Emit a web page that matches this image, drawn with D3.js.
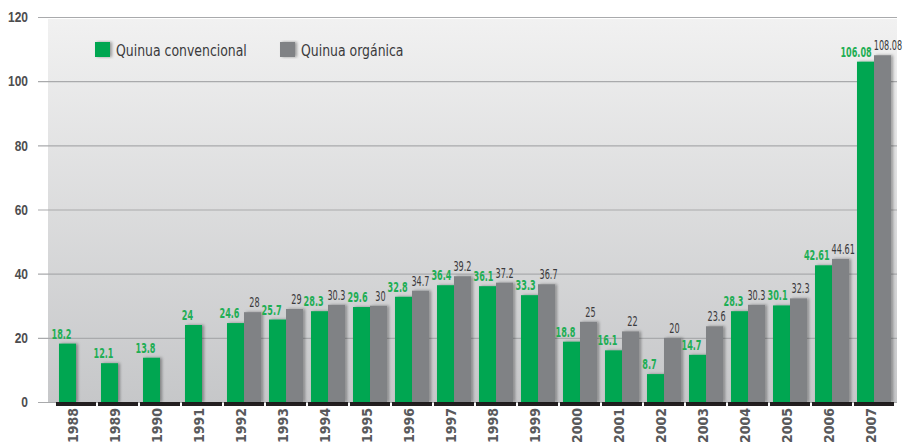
<!DOCTYPE html>
<html>
<head>
<meta charset="utf-8">
<script src="https://cdn.jsdelivr.net/npm/d3@7"></script>
<style>
  body { margin: 0; background: #fff; }
  svg { display: block; font-family: 'DejaVu Sans', 'Liberation Sans', sans-serif; }
</style>
</head>
<body>
<svg id="chart"></svg>
<script>
const years = ['1988', '1989', '1990', '1991', '1992', '1993', '1994', '1995', '1996', '1997',
  '1998', '1999', '2000', '2001', '2002', '2003', '2004', '2005', '2006', '2007']
const convencional = [18.2, 12.1, 13.8, 24, 24.6, 25.7, 28.3, 29.6, 32.8, 36.4,
  36.1, 33.3, 18.8, 16.1, 8.7, 14.7, 28.3, 30.1, 42.61, 106.08]
const organica = [null, null, null, null, 28, 29, 30.3, 30, 34.7, 39.2,
  37.2, 36.7, 25, 22, 20, 23.6, 30.3, 32.3, 44.61, 108.08]
const yTicks = [0, 20, 40, 60, 80, 100, 120]
const seriesNames = ['Quinua convencional', 'Quinua orgánica']

const width = 903
const height = 447
const svg = d3.select('#chart').attr('width', width).attr('height', height)

const colorScale = d3.scaleOrdinal().domain(['conv', 'org']).range(['#00a651', '#808285'])
const labelColor = { conv: '#1fae55', org: '#3a3a3c' }
const squeeze = 0.58

const xPositionScale = d3.scaleBand()
  .domain(years)
  .range([55, 895])
  .paddingInner(0.19)
  .paddingOuter(0.095)
const xSub = d3.scaleBand().domain(['conv', 'org']).range([0, xPositionScale.bandwidth()])
const yPositionScale = d3.scaleLinear().domain([0, 120]).range([402, 17])

// background gradient + bar shadow
const defs = svg.append('defs')
const grad = defs.append('linearGradient')
  .attr('id', 'bg')
  .attr('x1', 0).attr('x2', 0).attr('y1', 0).attr('y2', 1)
grad.append('stop').attr('offset', '0%').attr('stop-color', '#f1f1f1')
grad.append('stop').attr('offset', '100%').attr('stop-color', '#c6c7c9')
const shadow = defs.append('filter').attr('id', 'shadow')
  .attr('x', '-20%').attr('width', '160%')
shadow.append('feDropShadow')
  .attr('dx', 2).attr('dy', 0).attr('stdDeviation', 1.5)
  .attr('flood-color', '#000').attr('flood-opacity', 0.35)

svg.append('rect')
  .attr('x', 48)
  .attr('y', yPositionScale(120) + 2)
  .attr('width', 897 - 48)
  .attr('height', yPositionScale(0) - yPositionScale(120) - 2)
  .attr('fill', 'url(#bg)')

// y axis with gridlines
const yAxis = d3.axisLeft(yPositionScale)
  .tickValues(yTicks)
  .tickSize(-(897 - 38))
  .tickPadding(5)
svg.append('g')
  .attr('class', 'y-axis')
  .attr('transform', 'translate(38,0)')
  .call(yAxis)
  .call(g => g.select('.domain').remove())
  .call(g => g.selectAll('line').attr('stroke', '#a9aaac').attr('stroke-width', 1.2))
  .call(g => g.selectAll('text')
    .attr('x', -4)
    .attr('font-size', 15)
    .attr('font-weight', 'bold')
    .attr('fill', '#4d4d4f')
    .attr('transform', 'translate(-34,0) scale(0.8,1) translate(34,0)'))

// flat list of bars
const bars = []
years.forEach((y, i) => {
  bars.push({ year: y, key: 'conv', value: convencional[i] })
  if (organica[i] !== null) bars.push({ year: y, key: 'org', value: organica[i] })
})

// base under each group
svg.append('g')
  .selectAll('rect')
  .data(years)
  .enter()
  .append('rect')
  .attr('x', d => xPositionScale(d) - 3)
  .attr('y', yPositionScale(0))
  .attr('width', xPositionScale.bandwidth() + 6)
  .attr('height', 4)
  .attr('fill', '#231f20')

svg.append('g')
  .selectAll('.bar')
  .data(bars)
  .enter()
  .append('rect')
  .attr('class', 'bar')
  .attr('x', d => xPositionScale(d.year) + xSub(d.key))
  .attr('y', d => yPositionScale(d.value))
  .attr('width', xSub.bandwidth())
  .attr('height', d => yPositionScale(0) - yPositionScale(d.value))
  .attr('fill', d => colorScale(d.key))
  .attr('filter', 'url(#shadow)')

// value labels, squeezed to look like the narrow face of the original
const valueLabels = svg.append('g')
  .selectAll('.value')
  .data(bars)
  .enter()
  .append('text')
  .attr('class', 'value')
  .text(d => d.value)
  .attr('text-anchor', 'middle')
  .attr('font-size', 14)
  .attr('font-weight', d => d.key === 'conv' ? 'bold' : 'normal')
  .attr('fill', d => labelColor[d.key])
  .each(function(d) {
    d.lx = xPositionScale(d.year) + xSub(d.key) + xSub.bandwidth() / 2 + (d.key === 'conv' ? -6 : 2)
    d.ly = yPositionScale(d.value) - 5
    d.lw = this.getComputedTextLength() * squeeze
  })

// push neighbours apart where they would touch
for (let pass = 0; pass < 4; pass++) {
  for (let i = 0; i < bars.length - 1; i++) {
    const a = bars[i]
    const b = bars[i + 1]
    const gap = (b.lx - b.lw / 2) - (a.lx + a.lw / 2)
    if (gap < 2 && Math.abs(a.ly - b.ly) < 14) {
      const shift = (2 - gap) / 2
      a.lx -= shift
      b.lx += shift
    }
  }
}
valueLabels.attr('transform', d => 'translate(' + d.lx + ',' + d.ly + ') scale(' + squeeze + ',1)')

// x labels, rotated
svg.append('g')
  .selectAll('text')
  .data(years)
  .enter()
  .append('text')
  .text(d => d)
  .attr('transform', d => 'translate(' + (xPositionScale(d) + xPositionScale.bandwidth() / 2 - 3) + ',408) rotate(-90) scale(0.9,1)')
  .attr('dy', '0.35em')
  .attr('text-anchor', 'end')
  .attr('font-size', 14)
  .attr('font-weight', 'bold')
  .attr('fill', '#58595b')

// legend
const legend = svg.append('g').attr('transform', 'translate(95,42)')
const legendItems = legend.selectAll('g')
  .data(['conv', 'org'])
  .enter()
  .append('g')
  .attr('transform', (d, i) => 'translate(' + i * 185 + ',0)')
legendItems.append('rect')
  .attr('width', 15)
  .attr('height', 15)
  .attr('fill', d => colorScale(d))
  .attr('filter', 'url(#shadow)')
legendItems.append('text')
  .text((d, i) => seriesNames[i])
  .attr('transform', 'translate(21,14) scale(0.78,1)')
  .attr('font-size', 16)
  .attr('fill', '#3a3a3c')
</script>
</body>
</html>
